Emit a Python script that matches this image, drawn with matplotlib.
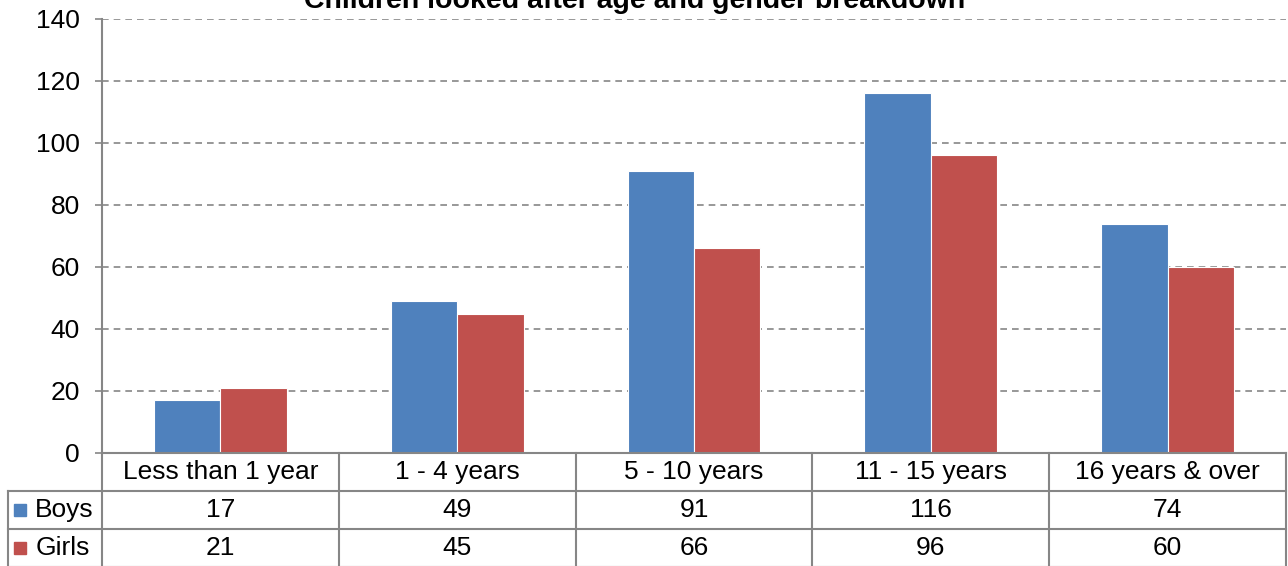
import matplotlib.pyplot as plt
import numpy as np

plt.rcParams['font.family'] = ['Liberation Sans', 'DejaVu Sans']

categories = ['Less than 1 year', '1 - 4 years', '5 - 10 years', '11 - 15 years', '16 years & over']
boys = [17, 49, 91, 116, 74]
girls = [21, 45, 66, 96, 60]
series_names = ['Boys', 'Girls']
y_ticks = [0, 20, 40, 60, 80, 100, 120, 140]
title = 'Children looked after age and gender breakdown'

blue = '#4F81BD'
red = '#C0504D'
grey = '#868686'

W, H = 1288, 566
fig = plt.figure(figsize=(W / 100, H / 100), dpi=100)

# plot area in pixels
left, right, top, bottom = 102, 1286, 19, 453
ax = fig.add_axes([left / W, (H - bottom) / H, (right - left) / W, (bottom - top) / H])

x = np.arange(len(categories))
bw = 0.28
ax.bar(x - bw / 2, boys, bw, color=blue, edgecolor='white', linewidth=0.8, zorder=3)
ax.bar(x + bw / 2, girls, bw, color=red, edgecolor='white', linewidth=0.8, zorder=3)

ax.set_xlim(-0.5, len(categories) - 0.5)
ax.set_ylim(0, 140)
ax.set_yticks(y_ticks)
ax.set_yticklabels([str(t) for t in y_ticks], fontsize=19)
ax.set_xticks([])
ax.yaxis.grid(True, linestyle=(0, (4, 3)), color=grey, linewidth=1.2, zorder=0)
ax.tick_params(axis='y', length=5, width=1.2, color=grey, pad=11)
for s in ['top', 'right', 'bottom']:
    ax.spines[s].set_visible(False)
ax.spines['left'].set_color(grey)
ax.spines['left'].set_linewidth(1.5)

# data table below the plot
tr = ax.get_xaxis_transform()
ph = bottom - top
row_h = 38 / ph
lab_left = -0.5 - (left - 8) / ((right - left) / len(categories))
n = len(categories)
lw = 1.5

# horizontal lines
ax.plot([-0.5, n - 0.5], [0, 0], color=grey, lw=lw, transform=tr, clip_on=False, zorder=4)
for k in range(1, 4):
    ax.plot([lab_left, n - 0.5], [-k * row_h] * 2, color=grey, lw=lw, transform=tr, clip_on=False)
# vertical lines
for i in range(n + 1):
    ax.plot([i - 0.5] * 2, [0, -3 * row_h], color=grey, lw=lw, transform=tr, clip_on=False)
ax.plot([lab_left] * 2, [-row_h, -3 * row_h], color=grey, lw=lw, transform=tr, clip_on=False)

for i, c in enumerate(categories):
    ax.text(i, -0.5 * row_h, c, ha='center', va='center', fontsize=19, transform=tr)
    ax.text(i, -1.5 * row_h, str(boys[i]), ha='center', va='center', fontsize=19, transform=tr)
    ax.text(i, -2.5 * row_h, str(girls[i]), ha='center', va='center', fontsize=19, transform=tr)

for k, (name, col) in enumerate(zip(series_names, [blue, red])):
    yy = -(1.5 + k) * row_h
    ax.plot([lab_left + 0.05], [yy], marker='s', markersize=8, color=col,
            transform=tr, clip_on=False)
    ax.text(lab_left + 0.115, yy, name, ha='left', va='center', fontsize=19, transform=tr)

fig.text(0.493, 1 - 8 / H, title, ha='center', va='baseline', fontsize=20.5, fontweight='bold')

fig.savefig('out.png', dpi=100)
